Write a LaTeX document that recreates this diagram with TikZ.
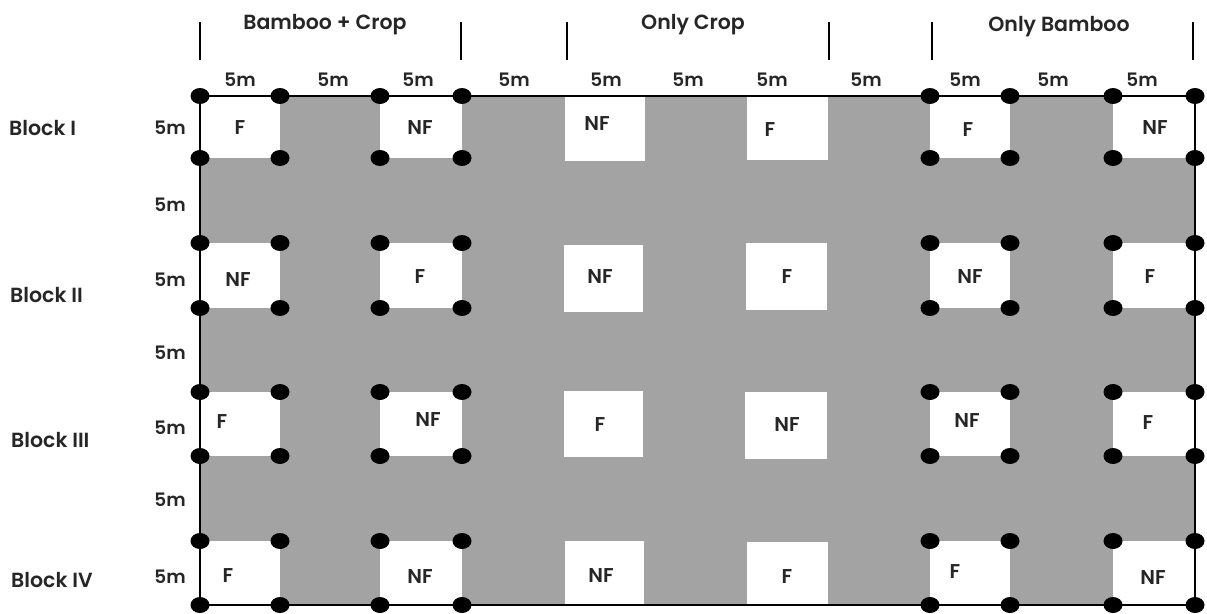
\documentclass[tikz,border=0pt]{standalone}
\usepackage{fontspec}
\setmainfont{Poppins}[BoldFont={Poppins SemiBold}]
\usetikzlibrary{shapes.geometric}
\definecolor{fieldgray}{RGB}{163,163,163}
\tikzset{
  dotmark/.style={ellipse,fill=black,inner sep=0pt,minimum width=19pt,minimum height=16pt},
  plotlbl/.style={font=\bfseries\fontsize{20}{20}\selectfont,inner sep=0pt,text=black!85},
  dimlbl/.style={font=\bfseries\fontsize{18.5}{18.5}\selectfont,inner sep=0pt,text=black!85},
  hdrlbl/.style={font=\bfseries\fontsize{20.5}{20.5}\selectfont,inner sep=0pt,text=black!85},
  blklbl/.style={font=\bfseries\fontsize{20.5}{20.5}\selectfont,inner sep=0pt,anchor=west,text=black!85},
  tickline/.style={line width=2.6pt,black},
  borderline/.style={line width=2.8pt,black},
  topline/.style={line width=1.8pt,black}
}
\begin{document}
\begin{tikzpicture}[x=1pt,y=-1pt]
\useasboundingbox (0,0) rectangle (1207,613);
% field
\coordinate (NW) at (200,96);
\coordinate (NE) at (1195,96);
\coordinate (SE) at (1195,605);
\coordinate (SW) at (200,605);
\fill[fieldgray] (NW) rectangle (SE);
% plots with dots: Bamboo+Crop and Only Bamboo
\foreach \ya/\yb/\r in {96/158/1,243/308/2,392/456/3,541/605/4}{
  \foreach \xa/\xb/\c in {200/280/1,380/462/2,930/1010/5,1113/1195/6}{
    \fill[white] (\xa,\ya) rectangle (\xb,\yb);
  }
}
% only crop plots
\fill[white] (565,96) rectangle (645,161);
\fill[white] (747,96) rectangle (828,160);
\fill[white] (564,245) rectangle (643,312);
\fill[white] (746,243) rectangle (827,310);
\fill[white] (564,391) rectangle (643,457);
\fill[white] (745,392) rectangle (827,459);
\fill[white] (565,541) rectangle (644,605);
\fill[white] (747,542) rectangle (828,605);
% border
\draw[borderline] (NE) -- (SE) -- (SW) -- (NW);
\draw[topline] (NW) -- (NE);
% dots
\foreach \ya/\yb/\r in {96/158/1,243/308/2,392/456/3,541/605/4}{
  \foreach \xa/\xb/\c in {200/280/1,380/462/2,930/1010/5,1113/1195/6}{
    \node[dotmark] (d\r\c a) at (\xa,\ya) {};
    \node[dotmark] (d\r\c b) at (\xb,\ya) {};
    \node[dotmark] (d\r\c c) at (\xa,\yb) {};
    \node[dotmark] (d\r\c d) at (\xb,\yb) {};
  }
}
% plot labels
\node[plotlbl] (p11) at (240,128) {F};
\node[plotlbl] (p12) at (420,128) {NF};
\node[plotlbl] (p13) at (597,124) {NF};
\node[plotlbl] (p14) at (770,130) {F};
\node[plotlbl] (p15) at (968,130) {F};
\node[plotlbl] (p16) at (1155,128) {NF};
\node[plotlbl] (p21) at (238,280) {NF};
\node[plotlbl] (p22) at (420,277) {F};
\node[plotlbl] (p23) at (600,277) {NF};
\node[plotlbl] (p24) at (787,277) {F};
\node[plotlbl] (p25) at (970,277) {NF};
\node[plotlbl] (p26) at (1150,277) {F};
\node[plotlbl] (p31) at (222,422) {F};
\node[plotlbl] (p32) at (428,420) {NF};
\node[plotlbl] (p33) at (600,425) {F};
\node[plotlbl] (p34) at (787,425) {NF};
\node[plotlbl] (p35) at (967,421) {NF};
\node[plotlbl] (p36) at (1148,423) {F};
\node[plotlbl] (p41) at (228,576) {F};
\node[plotlbl] (p42) at (420,577) {NF};
\node[plotlbl] (p43) at (601,576) {NF};
\node[plotlbl] (p44) at (787,577) {F};
\node[plotlbl] (p45) at (955,572) {F};
\node[plotlbl] (p46) at (1153,578) {NF};
% header ticks
\foreach \x/\n in {200/1,461/2,567/3,829/4,932/5,1193/6}{
  \coordinate (t\n a) at (\x,22);
  \coordinate (t\n b) at (\x,60);
  \draw[tickline] (t\n a) -- (t\n b);
}
% headers
\node[hdrlbl] (h1) at (325,25) {Bamboo + Crop};
\node[hdrlbl] (h2) at (693,25) {Only Crop};
\node[hdrlbl] (h3) at (1059,27) {Only Bamboo};
% top dimension labels
\foreach \x/\n in {240/1,333/2,418/3,514/4,606/5,688/6,772/7,866/8,965/9,1053/10,1142/11}{
  \node[dimlbl] (m\n) at (\x,80) {5m};
}
% left dimension labels
\foreach \y/\n in {128/1,205/2,280/3,353/4,428/5,500/6,577/7}{
  \node[dimlbl] (l\n) at (170,\y) {5m};
}
% block labels
\node[blklbl] (b1) at (9,128) {Block I};
\node[blklbl] (b2) at (10,295) {Block II};
\node[blklbl] (b3) at (11,440) {Block III};
\node[blklbl] (b4) at (11,580) {Block IV};
\end{tikzpicture}
\end{document}
